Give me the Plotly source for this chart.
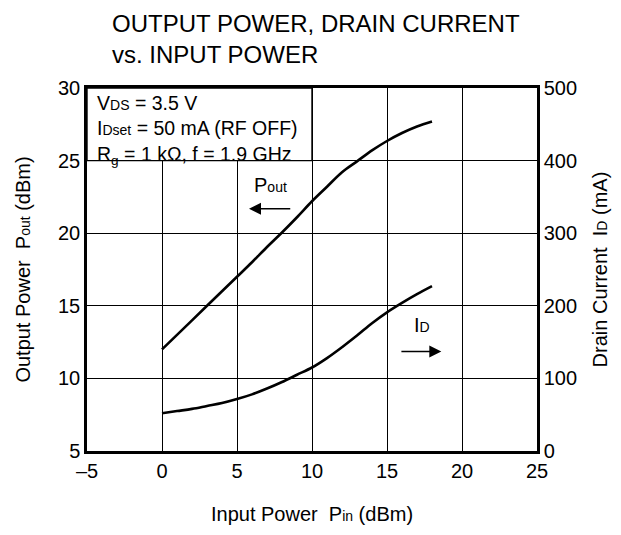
import plotly.graph_objects as go

# Data
pin_dbm = [0, 1, 2, 3, 4, 5, 6, 7, 8, 9, 10, 11, 12, 13, 14, 15, 16, 17, 18]
pout_dbm = [12.0, 13.0, 14.0, 15.0, 16.0, 17.0, 18.0, 19.05, 20.05, 21.1, 22.2,
            23.2, 24.2, 24.95, 25.7, 26.35, 26.9, 27.35, 27.7]
id_ma = [52, 55, 58, 62, 66, 71.5, 78, 86, 95, 105, 115, 128, 143, 159, 176,
         191, 204, 216, 227]

x_ticks = [-5, 0, 5, 10, 15, 20, 25]
y_ticks = [5, 10, 15, 20, 25, 30]
y2_ticks = [0, 100, 200, 300, 400, 500]

FONT = "Liberation Sans, Arial, sans-serif"
sm = "<span style='font-size:14px'>{}</span>"

fig = go.Figure()
fig.add_trace(go.Scatter(x=pin_dbm, y=pout_dbm, mode="lines", line=dict(color="black", width=2.6, shape="spline"),
                         showlegend=False, yaxis="y", hoverinfo="skip"))
fig.add_trace(go.Scatter(x=pin_dbm, y=id_ma, mode="lines", line=dict(color="black", width=2.6, shape="spline"),
                         showlegend=False, yaxis="y2", hoverinfo="skip"))

axis_common = dict(showline=True, linecolor="black", linewidth=2.5,
                   showgrid=True, gridcolor="black", gridwidth=1.2, zeroline=False,
                   ticks="", tickfont=dict(family=FONT, size=20, color="black"))

fig.update_layout(
    width=621, height=535,
    margin=dict(l=87, r=84, t=88, b=72),
    paper_bgcolor="white", plot_bgcolor="white",
    font=dict(family=FONT, color="black"),
    xaxis=dict(range=[-5, 25], tickvals=x_ticks, ticktext=["\u2013" + "5"] + [str(v) for v in x_ticks[1:]],
               mirror=True,
               title=dict(text="Input Power  P" + sm.format("in") + " (dBm)", font=dict(size=20), standoff=27),
               **axis_common),
    yaxis=dict(range=[5, 30], tickvals=y_ticks, mirror=False,
               title=dict(text="Output Power  P" + sm.format("out") + " (dBm)", font=dict(size=20), standoff=23),
               **axis_common),
    yaxis2=dict(range=[0, 500], tickvals=y2_ticks, overlaying="y", side="right",
                showline=True, linecolor="black", linewidth=2.5, showgrid=False, zeroline=False,
                ticks="", tickfont=dict(family=FONT, size=20, color="black"),
                title=dict(text="Drain Current  I" + sm.format("D") + " (mA)", font=dict(size=20), standoff=17)),
)

# condition box
fig.add_shape(type="rect", xref="x", yref="y", x0=-5, x1=10, y0=25, y1=30,
              fillcolor="white", line=dict(color="black", width=1.4), layer="above")
fig.add_annotation(xref="x", yref="y", x=-4.45, y=29.85, xanchor="left", yanchor="top", align="left",
                   showarrow=False, font=dict(size=19.5, family=FONT),
                   text="V" + sm.format("DS") + " = 3.5 V<br>I" + sm.format("Dset") +
                        " = 50 mA (RF OFF)<br>R<sub>g</sub> = 1 k\u03a9, f = 1.9 GHz")

# title
fig.add_annotation(xref="paper", yref="paper", x=0.05, y=1.221, xanchor="left", yanchor="top",
                   align="left", showarrow=False, font=dict(size=24, family=FONT),
                   text="OUTPUT POWER, DRAIN CURRENT<br>vs. INPUT POWER")

# curve labels and arrows
fig.add_annotation(xref="x", yref="y", x=7.2, y=23.3, showarrow=False,
                   text="P" + sm.format("out"), font=dict(size=20, family=FONT))
fig.add_annotation(xref="x", yref="y", x=5.8, y=21.68, ax=8.65, ay=21.68, axref="x", ayref="y",
                   text="", showarrow=True, arrowhead=2, arrowsize=1.6, arrowwidth=1.5, arrowcolor="black")
fig.add_annotation(xref="x", yref="y", x=17.35, y=13.65, showarrow=False,
                   text="I" + sm.format("D"), font=dict(size=20, family=FONT))
fig.add_annotation(xref="x", yref="y", x=18.62, y=11.85, ax=15.86, ay=11.85, axref="x", ayref="y",
                   text="", showarrow=True, arrowhead=2, arrowsize=1.6, arrowwidth=1.5, arrowcolor="black")

fig.write_html("out.html", config={"displayModeBar": False},
               post_script="document.body.style.margin='0';")
